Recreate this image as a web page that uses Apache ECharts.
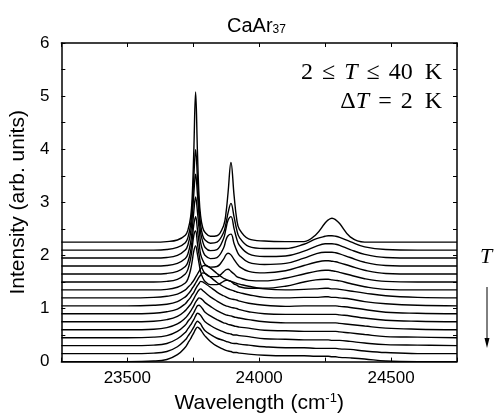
<!DOCTYPE html>
<html><head><meta charset="utf-8">
<script src="https://cdn.jsdelivr.net/npm/echarts@6/dist/echarts.min.js"></script>
<style>html,body{margin:0;padding:0;background:#fff}#c{width:497px;height:419px}</style>
</head><body><div id="c"></div>
<script>
// Wavenumber grid (cm^-1)
const wavenumber = [23250, 23500, 23600, 23650, 23690, 23720, 23730, 23740, 23746, 23752, 23759, 23766, 23772, 23778, 23786, 23795, 23815, 23840, 23865, 23874, 23882, 23893, 23905, 23915, 23925, 23960, 24020, 24100, 24170, 24215, 24250, 24262, 24276, 24290, 24305, 24345, 24400, 24480, 24600, 24750];

// Offset spectra, top (lowest T) to bottom (highest T)
const spectrum01 = [2.25, 2.25, 2.25, 2.26, 2.29, 2.38, 2.48, 2.72, 3.10, 3.94, 5.08, 3.94, 3.12, 2.74, 2.52, 2.43, 2.36, 2.37, 2.56, 2.79, 3.18, 3.75, 3.12, 2.68, 2.49, 2.31, 2.27, 2.26, 2.26, 2.39, 2.61, 2.67, 2.70, 2.67, 2.60, 2.35, 2.25, 2.25, 2.25, 2.25];
const spectrum02 = [2.10, 2.10, 2.10, 2.11, 2.15, 2.24, 2.34, 2.58, 2.89, 3.45, 3.99, 3.45, 2.91, 2.58, 2.37, 2.29, 2.23, 2.25, 2.43, 2.60, 2.80, 2.98, 2.72, 2.48, 2.34, 2.17, 2.13, 2.13, 2.21, 2.31, 2.36, 2.37, 2.37, 2.36, 2.34, 2.26, 2.16, 2.11, 2.10, 2.10];
const spectrum03 = [1.95, 1.95, 1.95, 1.96, 2.00, 2.10, 2.20, 2.43, 2.71, 3.15, 3.53, 3.15, 2.74, 2.43, 2.26, 2.15, 2.09, 2.11, 2.32, 2.50, 2.66, 2.73, 2.50, 2.31, 2.19, 2.03, 1.98, 1.99, 2.08, 2.17, 2.22, 2.22, 2.22, 2.21, 2.19, 2.11, 2.02, 1.96, 1.95, 1.95];
const spectrum04 = [1.80, 1.80, 1.80, 1.81, 1.85, 1.94, 2.03, 2.24, 2.48, 2.82, 3.10, 2.82, 2.51, 2.24, 2.09, 2.00, 1.94, 1.96, 2.14, 2.29, 2.37, 2.40, 2.22, 2.09, 2.00, 1.87, 1.83, 1.85, 1.95, 2.03, 2.06, 2.06, 2.06, 2.05, 2.03, 1.96, 1.87, 1.81, 1.80, 1.80];
const spectrum05 = [1.65, 1.65, 1.65, 1.66, 1.70, 1.79, 1.88, 2.08, 2.29, 2.57, 2.73, 2.48, 2.24, 2.02, 1.91, 1.83, 1.78, 1.79, 1.93, 2.01, 2.04, 2.01, 1.92, 1.85, 1.79, 1.70, 1.67, 1.71, 1.81, 1.87, 1.90, 1.90, 1.89, 1.88, 1.86, 1.80, 1.72, 1.66, 1.65, 1.65];
const spectrum06 = [1.50, 1.50, 1.50, 1.51, 1.55, 1.65, 1.74, 1.94, 2.14, 2.37, 2.46, 2.22, 2.02, 1.84, 1.73, 1.66, 1.60, 1.60, 1.69, 1.73, 1.74, 1.70, 1.65, 1.60, 1.58, 1.53, 1.52, 1.57, 1.65, 1.70, 1.72, 1.72, 1.71, 1.70, 1.68, 1.63, 1.56, 1.51, 1.50, 1.50];
const spectrum07 = [1.35, 1.35, 1.35, 1.36, 1.40, 1.48, 1.56, 1.73, 1.89, 2.08, 2.18, 2.02, 1.85, 1.69, 1.58, 1.51, 1.45, 1.45, 1.51, 1.53, 1.53, 1.51, 1.46, 1.44, 1.41, 1.38, 1.38, 1.42, 1.50, 1.54, 1.55, 1.55, 1.54, 1.53, 1.52, 1.47, 1.41, 1.36, 1.35, 1.35];
const spectrum08 = [1.20, 1.20, 1.21, 1.23, 1.27, 1.35, 1.40, 1.45, 1.49, 1.53, 1.59, 1.65, 1.70, 1.75, 1.80, 1.81, 1.76, 1.66, 1.57, 1.55, 1.53, 1.51, 1.49, 1.47, 1.46, 1.42, 1.37, 1.35, 1.36, 1.37, 1.38, 1.38, 1.37, 1.37, 1.36, 1.33, 1.29, 1.24, 1.21, 1.20];
const spectrum09 = [1.05, 1.05, 1.06, 1.08, 1.13, 1.22, 1.27, 1.33, 1.38, 1.42, 1.48, 1.54, 1.59, 1.63, 1.67, 1.66, 1.59, 1.49, 1.41, 1.39, 1.37, 1.35, 1.33, 1.31, 1.30, 1.26, 1.21, 1.20, 1.21, 1.21, 1.22, 1.22, 1.21, 1.21, 1.20, 1.18, 1.13, 1.09, 1.06, 1.05];
const spectrum10 = [0.90, 0.90, 0.91, 0.94, 0.99, 1.09, 1.15, 1.21, 1.26, 1.30, 1.37, 1.43, 1.47, 1.51, 1.50, 1.47, 1.40, 1.31, 1.24, 1.22, 1.20, 1.18, 1.17, 1.16, 1.14, 1.10, 1.06, 1.04, 1.05, 1.05, 1.05, 1.05, 1.05, 1.05, 1.04, 1.02, 0.98, 0.93, 0.91, 0.90];
const spectrum11 = [0.75, 0.75, 0.76, 0.79, 0.85, 0.96, 1.02, 1.08, 1.13, 1.18, 1.25, 1.31, 1.35, 1.37, 1.34, 1.30, 1.22, 1.14, 1.07, 1.05, 1.04, 1.02, 1.01, 1.00, 0.98, 0.94, 0.90, 0.89, 0.89, 0.89, 0.89, 0.89, 0.89, 0.89, 0.88, 0.86, 0.82, 0.78, 0.76, 0.75];
const spectrum12 = [0.60, 0.60, 0.61, 0.64, 0.71, 0.82, 0.88, 0.95, 1.00, 1.05, 1.12, 1.17, 1.20, 1.19, 1.16, 1.11, 1.04, 0.96, 0.90, 0.88, 0.87, 0.86, 0.84, 0.83, 0.82, 0.79, 0.75, 0.73, 0.73, 0.73, 0.73, 0.73, 0.73, 0.73, 0.72, 0.70, 0.67, 0.63, 0.61, 0.60];
const spectrum13 = [0.45, 0.45, 0.46, 0.49, 0.57, 0.69, 0.76, 0.82, 0.87, 0.92, 0.99, 1.05, 1.06, 1.04, 0.99, 0.93, 0.86, 0.79, 0.73, 0.72, 0.70, 0.69, 0.67, 0.66, 0.65, 0.63, 0.59, 0.58, 0.57, 0.57, 0.57, 0.57, 0.57, 0.57, 0.56, 0.54, 0.51, 0.47, 0.46, 0.45];
const spectrum14 = [0.30, 0.30, 0.31, 0.34, 0.43, 0.55, 0.62, 0.69, 0.74, 0.79, 0.86, 0.91, 0.90, 0.87, 0.81, 0.75, 0.68, 0.61, 0.56, 0.54, 0.53, 0.52, 0.50, 0.50, 0.49, 0.47, 0.43, 0.42, 0.41, 0.41, 0.41, 0.41, 0.40, 0.40, 0.40, 0.38, 0.35, 0.32, 0.31, 0.30];
const spectrum15 = [0.15, 0.15, 0.16, 0.19, 0.28, 0.41, 0.48, 0.55, 0.60, 0.65, 0.72, 0.76, 0.74, 0.71, 0.64, 0.58, 0.51, 0.44, 0.40, 0.38, 0.37, 0.35, 0.34, 0.34, 0.33, 0.31, 0.28, 0.26, 0.26, 0.25, 0.25, 0.25, 0.25, 0.25, 0.24, 0.23, 0.20, 0.17, 0.15, 0.15];
const spectrum16 = [0.00, 0.00, 0.01, 0.04, 0.13, 0.27, 0.35, 0.43, 0.49, 0.54, 0.61, 0.65, 0.63, 0.60, 0.54, 0.48, 0.38, 0.29, 0.23, 0.21, 0.20, 0.19, 0.17, 0.17, 0.16, 0.14, 0.12, 0.11, 0.11, 0.10, 0.10, 0.10, 0.09, 0.09, 0.08, 0.07, 0.05, 0.01, 0.00, 0.00];

const spectra = [spectrum01, spectrum02, spectrum03, spectrum04, spectrum05, spectrum06, spectrum07, spectrum08,
                 spectrum09, spectrum10, spectrum11, spectrum12, spectrum13, spectrum14, spectrum15, spectrum16];

const xTickLabels = [23500, 24000, 24500];
const yTickLabels = [0, 1, 2, 3, 4, 5, 6];

const SANS = 'Liberation Sans, Arial, sans-serif';
const SERIF = 'Liberation Serif, Times New Roman, serif';

const chart = echarts.init(document.getElementById('c'), null, {renderer: 'canvas'});

const series = spectra.map(function (s) {
  return {
    type: 'line',
    xAxisIndex: 0, yAxisIndex: 0,
    data: wavenumber.map(function (x, j) { return [x, s[j]]; }),
    showSymbol: false, symbol: 'none',
    smooth: 0.4,
    lineStyle: {color: '#000', width: 1.4},
    silent: true, animation: false, z: 3
  };
});

const axisLine = {show: true, onZero: false, lineStyle: {color: '#000', width: 1.5}};
const tick = {show: true, inside: true, length: 4, lineStyle: {color: '#000', width: 1}};

chart.setOption({
  animation: false,
  backgroundColor: '#fff',
  title: {
    text: '{a|CaAr}{b|37}',
    left: 222, top: 7,
    textStyle: {
      fontWeight: 'normal',
      rich: {
        a: {fontFamily: SANS, fontSize: 20, fontWeight: 'normal', color: '#000', lineHeight: 24, verticalAlign: 'bottom'},
        b: {fontFamily: SANS, fontSize: 12, fontWeight: 'normal', color: '#000', lineHeight: 12, verticalAlign: 'bottom'}
      }
    }
  },
  grid: {left: 61, right: 40, top: 43, bottom: 51, containLabel: false},
  xAxis: [{
    type: 'value', position: 'bottom', min: 23250, max: 24750, interval: 250,
    axisLine: axisLine, axisTick: tick, splitLine: {show: false},
    axisLabel: {
      formatter: function (v) { return xTickLabels.indexOf(v) >= 0 ? String(v) : ''; },
      color: '#000', fontSize: 17, fontFamily: SANS, margin: 8
    },
    name: '{a|Wavelength (cm}{s|-1}{a|)}', nameLocation: 'middle', nameGap: 24,
    nameTextStyle: {
      rich: {
        a: {fontFamily: SANS, fontSize: 21, color: '#000', lineHeight: 24},
        s: {fontFamily: SANS, fontSize: 13, color: '#000', lineHeight: 13, verticalAlign: 'top'}
      }
    }
  }, {
    type: 'value', position: 'top', min: 23250, max: 24750, interval: 250,
    axisLine: axisLine, axisTick: tick, axisLabel: {show: false}, splitLine: {show: false}
  }],
  yAxis: [{
    type: 'value', position: 'left', min: 0, max: 6, interval: 1,
    axisLine: axisLine, axisTick: tick,
    minorTick: {show: true, splitNumber: 2, length: 4, lineStyle: {color: '#000', width: 1}},
    splitLine: {show: false}, minorSplitLine: {show: false},
    axisLabel: {
      formatter: function (v) { return yTickLabels.indexOf(v) >= 0 ? String(v) : ''; },
      color: '#000', fontSize: 17, fontFamily: SANS, margin: 12
    },
    name: 'Intensity (arb. units)', nameLocation: 'middle', nameGap: 22,
    nameTextStyle: {fontFamily: SANS, fontSize: 21, color: '#000'}
  }, {
    type: 'value', position: 'right', min: 0, max: 6, interval: 1,
    axisLine: axisLine, axisTick: tick,
    minorTick: {show: true, splitNumber: 2, length: 4, lineStyle: {color: '#000', width: 1}},
    splitLine: {show: false}, axisLabel: {show: false}
  }],
  series: series,
  graphic: [
    {
      type: 'text', z: 10,
      style: {
        x: 442, y: 73, align: 'right', verticalAlign: 'middle',
        text: '{n|2}{o| ≤ }{i|T}{o| ≤ }{n|40}{p| }{n|K}',
        rich: {
          n: {fontFamily: SERIF, fontSize: 24, fill: '#000'},
          o: {fontFamily: SERIF, fontSize: 24, fill: '#000', padding: [0, 3]},
          i: {fontFamily: SERIF, fontSize: 24, fontStyle: 'italic', fill: '#000'},
          p: {fontFamily: SERIF, fontSize: 24, fill: '#000', padding: [0, 3]}
        }
      }
    },
    {
      type: 'text', z: 10,
      style: {
        x: 442, y: 102, align: 'right', verticalAlign: 'middle',
        text: '{n|Δ}{i|T}{o| = }{n|2}{p| }{n|K}',
        rich: {
          n: {fontFamily: SERIF, fontSize: 24, fill: '#000'},
          o: {fontFamily: SERIF, fontSize: 24, fill: '#000', padding: [0, 3]},
          i: {fontFamily: SERIF, fontSize: 24, fontStyle: 'italic', fill: '#000'},
          p: {fontFamily: SERIF, fontSize: 24, fill: '#000', padding: [0, 3]}
        }
      }
    },
    {
      type: 'text', z: 10,
      style: {x: 486, y: 257, align: 'center', verticalAlign: 'middle', text: 'T',
        fontFamily: SERIF, fontSize: 22, fontStyle: 'italic', fill: '#000'}
    },
    {
      type: 'line', z: 10,
      shape: {x1: 487, y1: 287, x2: 487, y2: 344},
      style: {stroke: '#000', lineWidth: 1}
    },
    {
      type: 'polygon', z: 10,
      shape: {points: [[484.5, 338], [487, 348], [489.5, 338]]},
      style: {fill: '#000'}
    }
  ]
});
</script>
</body></html>
